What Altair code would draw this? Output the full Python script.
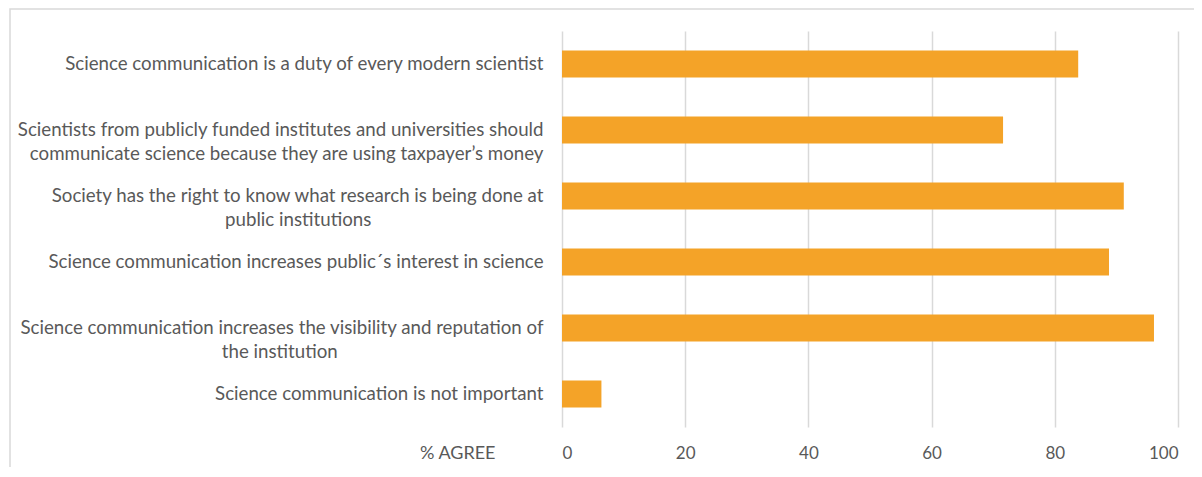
import altair as alt
import pandas as pd

statements = [
    "Science communication is a duty of every modern scientist",
    "Scientists from publicly funded institutes and universities should\ncommunicate science because they are using taxpayer\u2019s money",
    "Society has the right to know what research is being done at\npublic institutions",
    "Science communication increases public\u00b4s interest in science",
    "Science communication increases the visibility and reputation of\nthe institution",
    "Science communication is not important",
]
agree = [83.8, 71.6, 91.2, 88.8, 96.1, 6.4]
x_ticks = [0, 20, 40, 60, 80, 100]
x_title = "% AGREE"

FONT = "Lato"
GREY = "#595959"


def approx_em(text):
    # rough advance widths (in em) used only to centre wrapped lines
    w = 0.0
    for ch in text:
        if ch in "ilIjtf.,'\u2019\u00b4 ":
            w += 0.25
        elif ch == "r":
            w += 0.35
        elif ch in "mw":
            w += 0.80
        elif ch.isupper():
            w += 0.62
        else:
            w += 0.52
    return w


def centre_lines(label):
    # Excel centres wrapped lines; pad the shorter line with no-break spaces,
    # closed by a zero-width space so the padding survives trimming
    lines = label.split("\n")
    if len(lines) == 1:
        return label
    widths = [approx_em(l) for l in lines]
    longest = max(widths)
    out = []
    for l, w in zip(lines, widths):
        pad = int(round((longest - w) / 2 / 0.25))
        out.append(l + ("\u00a0" * pad + "\u200b" if pad else ""))
    return "\n".join(out)


labels = [centre_lines(s) for s in statements]
df = pd.DataFrame({"statement": labels, "agree": agree})

bars = alt.Chart(df).mark_bar(color="#F4A328").encode(
    x=alt.X(
        "agree:Q",
        scale=alt.Scale(domain=[0, 100], nice=False),
        axis=alt.Axis(
            values=x_ticks,
            title=x_title,
            titleX=-67,
            titleY=26,
            titleAlign="right",
            titleBaseline="middle",
            titleAngle=0,
            titleFont=FONT,
            titleFontSize=18,
            titleFontWeight="normal",
            titleColor=GREY,
            labelFont=FONT,
            labelFontSize=17,
            labelColor=GREY,
            labelBaseline="middle",
            labelPadding=26,
            tickSize=0,
            ticks=False,
            domain=False,
            grid=True,
            gridColor="#D9D9D9",
            gridWidth=1.5,
        ),
    ),
    y=alt.Y(
        "statement:N",
        sort=labels,
        scale=alt.Scale(paddingInner=0.59, paddingOuter=0.295),
        axis=alt.Axis(
            title=None,
            labelExpr="split(datum.label, '\\n')",
            labelFont=FONT,
            labelFontSize=18.7,
            labelColor=GREY,
            labelLimit=800,
            labelPadding=19,
            labelLineHeight=24,
            ticks=False,
            tickSize=0,
            domain=False,
            grid=False,
        ),
    ),
)

frame = alt.Chart(pd.DataFrame({"f": [0]})).mark_rect(
    fillOpacity=0, stroke="#D9D9D9", strokeWidth=1.5
).encode(
    x=alt.value(-552),
    x2=alt.value(2000),
    y=alt.value(-22),
    y2=alt.value(2000),
)

chart = alt.layer(frame, bars).properties(
    width=616,
    height=396,
    padding={"left": 554, "top": 23, "right": 16, "bottom": 40},
    autosize=alt.AutoSizeParams(type="none"),
).configure_view(stroke=None)

chart.save("out.html", embed_options={"renderer": "svg", "actions": False})
